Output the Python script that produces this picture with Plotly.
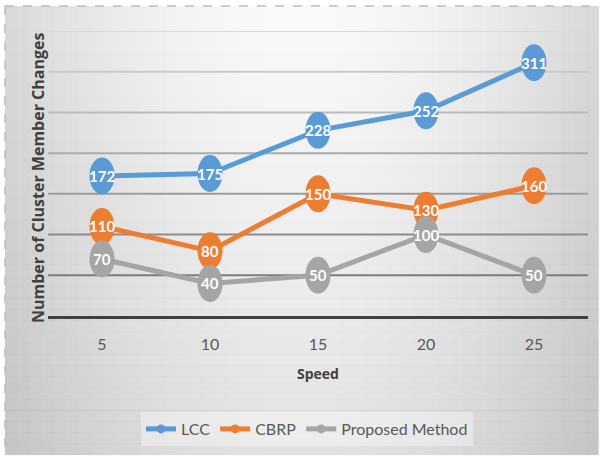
import plotly.graph_objects as go

speeds = [5, 10, 15, 20, 25]
lcc = [172, 175, 228, 252, 311]
cbrp = [110, 80, 150, 130, 160]
proposed = [70, 40, 50, 100, 50]
series_names = ["LCC", "CBRP", "Proposed Method"]
colors = ["#5B9BD5", "#ED7D31", "#A5A5A5"]
grid_vals = [50, 100, 150, 200, 250, 300, 350]

W, H = 602, 458
L, R, T, B = 48, 14, 31, 142
PW, PH = W - L - R, H - T - B


def px(x):
    return (x - L) / PW


def py(y):
    return (H - B - y) / PH


fig = go.Figure()
shapes = []

# background gradient (styling)
fx0, fx1, fy0, fy1 = 5, 598, 6, 455
ncol = 48
for i in range(ncol):
    a = fx0 + (fx1 - fx0) * i / ncol
    b = fx0 + (fx1 - fx0) * (i + 1) / ncol
    c = (a + b) / 2
    d = abs(c - 301) / 296
    v = int(250 - 34 * d ** 1.8)
    shapes.append(dict(type="rect", xref="paper", yref="paper", x0=px(a), x1=px(b) + 0.002,
                       y0=py(fy1), y1=py(fy0), fillcolor=f"rgb({v},{v},{v})",
                       line=dict(width=0), layer="below"))
nrow = 40
for j in range(nrow):
    a = fy0 + (fy1 - fy0) * j / nrow
    b = fy0 + (fy1 - fy0) * (j + 1) / nrow
    t = ((a + b) / 2 - fy0) / (fy1 - fy0)
    al = 0.09 * t ** 1.2
    shapes.append(dict(type="rect", xref="paper", yref="paper", x0=px(fx0), x1=px(fx1),
                       y0=py(b) - 0.001, y1=py(a), fillcolor=f"rgba(0,0,0,{al:.4f})",
                       line=dict(width=0), layer="below"))
# dashed frame top and left
shapes.append(dict(type="line", xref="paper", yref="paper", x0=px(fx0), x1=px(fx1),
                   y0=py(fy0), y1=py(fy0), line=dict(color="#bdbdbd", width=1.5, dash="dash"),
                   layer="below"))
shapes.append(dict(type="line", xref="paper", yref="paper", x0=px(fx0), x1=px(fx0),
                   y0=py(fy0), y1=py(fy1), line=dict(color="#bdbdbd", width=1.5, dash="dash"),
                   layer="below"))

# gridlines with graded colour
for k, g in enumerate(grid_vals):
    t = k / (len(grid_vals) - 1)
    v = int(125 + (218 - 125) * t)
    shapes.append(dict(type="line", xref="paper", yref="y", x0=0, x1=1, y0=g, y1=g,
                       line=dict(color=f"rgb({v},{v},{v})", width=2), layer="below"))

all_series = [lcc, cbrp, proposed]
for name, vals, col in zip(series_names, all_series, colors):
    fig.add_trace(go.Scatter(x=speeds, y=vals, name=name, mode="lines+markers",
                             line=dict(color=col, width=5),
                             marker=dict(color=col, size=9)))

# ellipse markers
hx = 12.5 / (PW / 5) * 5
hy = 18.5 * 350 / PH
annotations = []
for vals, col in zip(all_series, colors):
    for xv, yv in zip(speeds, vals):
        shapes.append(dict(type="circle", xref="x", yref="y", x0=xv - hx, x1=xv + hx,
                           y0=yv - hy, y1=yv + hy, fillcolor=col, line=dict(width=0),
                           layer="above"))
for vals in all_series:
    for xv, yv in zip(speeds, vals):
        annotations.append(dict(x=xv, y=yv, xref="x", yref="y", text=f"<b>{yv}</b>",
                                showarrow=False, xanchor="center", yanchor="middle",
                                font=dict(family="Lato", size=15, color="white")))

annotations.append(dict(x=px(38), y=py(178), xref="paper", yref="paper",
                        xanchor="center", yanchor="middle",
                        text="<b>Number of Cluster Member Changes</b>", textangle=-90,
                        showarrow=False,
                        font=dict(family="Open Sans", size=16, color="#404040")))
annotations.append(dict(x=px(318), y=py(373), xref="paper", yref="paper",
                        xanchor="center", yanchor="middle",
                        text="<b>Speed</b>", showarrow=False,
                        font=dict(family="Open Sans", size=14, color="#404040")))

fig.update_layout(
    width=W, height=H,
    margin=dict(l=L, r=R, t=T, b=B),
    paper_bgcolor="white",
    plot_bgcolor="rgba(0,0,0,0)",
    shapes=shapes,
    annotations=annotations,
    showlegend=True,
    legend=dict(orientation="h", x=px(307), xanchor="center", y=py(412), yanchor="top",
                bgcolor="rgba(255,255,255,0.35)",
                font=dict(family="Lato", size=16, color="#595959"),
                itemclick=False),
    xaxis=dict(range=[2.5, 27.5], tickvals=speeds, ticktext=[str(s) for s in speeds],
               showgrid=False, zeroline=False, showline=True, linecolor="#404040",
               linewidth=3, ticks="", ticklabelstandoff=12,
               tickfont=dict(family="Lato", size=16, color="#595959")),
    yaxis=dict(range=[0, 350], showgrid=False, zeroline=False, showticklabels=False,
               ticks=""),
)

fig.write_html("out.html")
